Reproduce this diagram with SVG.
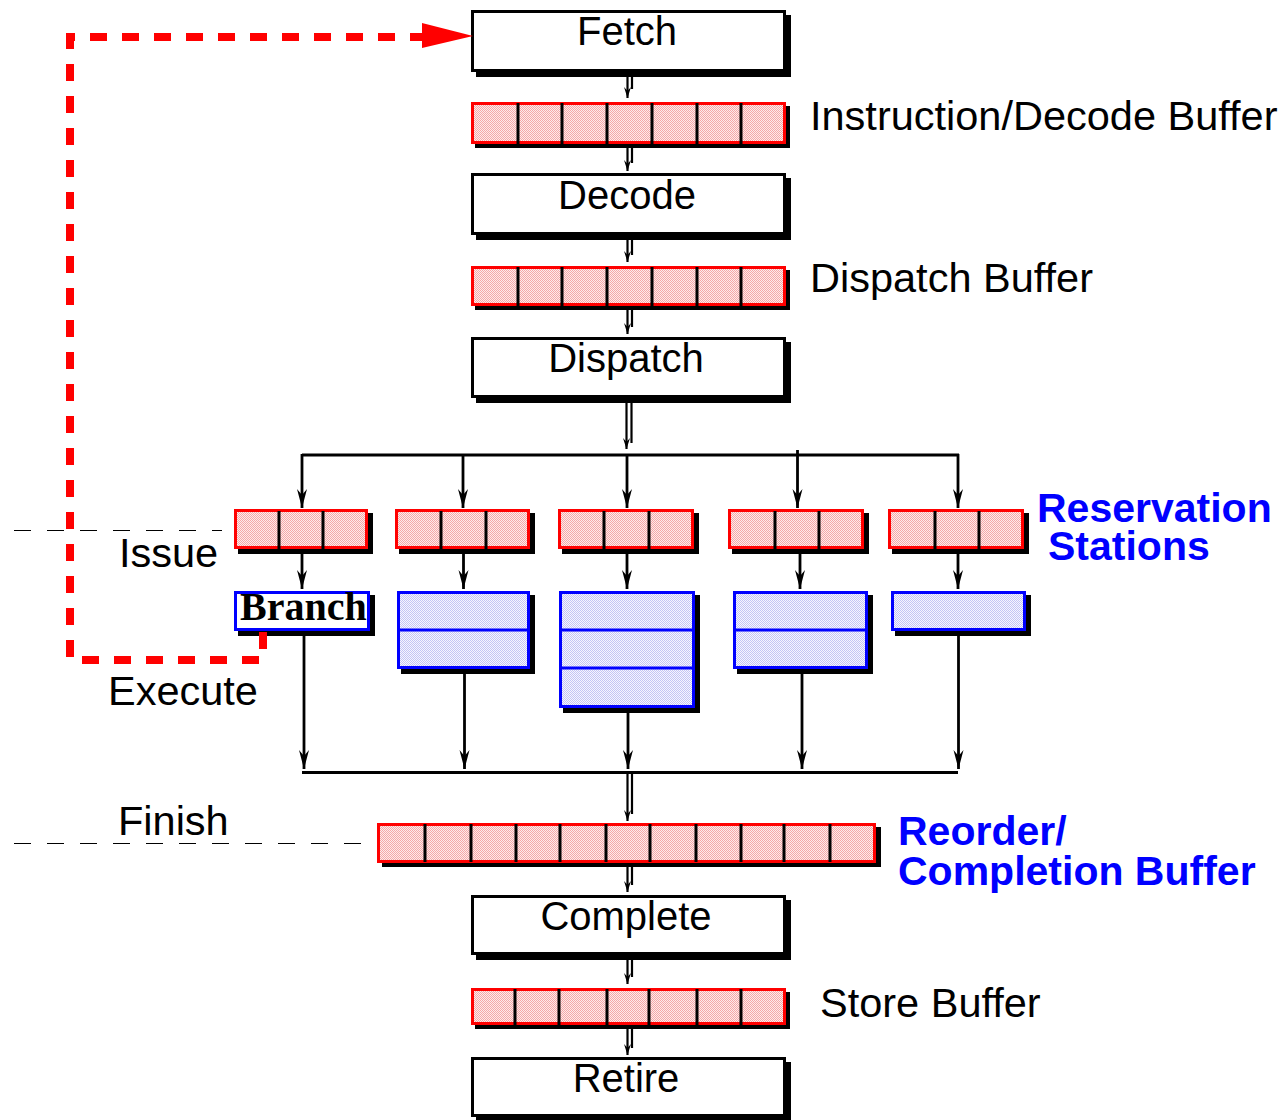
<svg xmlns="http://www.w3.org/2000/svg" width="1281" height="1120" viewBox="0 0 1281 1120">
  <defs>
    <!-- stippled fills for buffers and functional units -->
    <pattern id="pinkDots" width="2" height="2" patternUnits="userSpaceOnUse">
      <rect width="2" height="2" fill="#feeaea"/>
      <rect x="0" y="0" width="1" height="1" fill="#f4a8a8"/>
      <rect x="1" y="1" width="1" height="1" fill="#f4a8a8"/>
    </pattern>
    <pattern id="blueDots" width="2" height="2" patternUnits="userSpaceOnUse">
      <rect width="2" height="2" fill="#f6f6ff"/>
      <rect x="0" y="0" width="1" height="1" fill="#c4c4f4"/>
      <rect x="1" y="1" width="1" height="1" fill="#c4c4f4"/>
    </pattern>
    <marker id="arr" markerUnits="userSpaceOnUse" markerWidth="20" markerHeight="12" refX="0" refY="0" orient="auto" overflow="visible">
      <path d="M0,0 L-19,-5 L-13,0 L-19,5 Z" fill="#000"/>
    </marker>
    <marker id="arrSmall" markerUnits="userSpaceOnUse" markerWidth="12" markerHeight="8" refX="0" refY="0" orient="auto" overflow="visible">
      <path d="M0,0 L-11,-3.5 L-7,0 L-11,3.5 Z" fill="#000"/>
    </marker>
  </defs>
  <style>
    .shadow { fill: #000; }
    .stage { fill: #fff; stroke: #000; stroke-width: 3; }
    .buf { fill: url(#pinkDots); stroke: #f00; stroke-width: 3; }
    .unit { fill: url(#blueDots); stroke: #00f; stroke-width: 3; }
    .unitWhite { fill: #fff; stroke: #00f; stroke-width: 3; }
    .cell { stroke: #000; stroke-width: 3; }
    .ucell { stroke: #00f; stroke-width: 3; }
    .wire { fill: none; stroke: #000; stroke-width: 2.8; }
    .dwire { fill: none; stroke: #000; stroke-width: 2.2; }
    .guide { fill: none; stroke: #000; stroke-width: 1.2; stroke-dasharray: 17 16; }
    .feedback { fill: none; stroke: #f00; stroke-width: 8; stroke-dasharray: 17 15; }
    .lbl { font-family: "Liberation Sans", Arial, sans-serif; font-size: 40px; fill: #000; }
    .side { font-family: "Liberation Sans", Arial, sans-serif; font-size: 41.5px; fill: #000; }
    .blue { font-family: "Liberation Sans", Arial, sans-serif; font-size: 41px; font-weight: bold; fill: #00f; }
    .serifB { font-family: "Liberation Serif", "Times New Roman", serif; font-size: 40px; font-weight: bold; fill: #000; }
  </style>

  <!-- pipeline stages -->
  <g id="fetch">
    <rect class="shadow" x="476" y="15" width="315" height="62"/>
    <rect class="stage" x="472.5" y="11.5" width="312" height="59"/>
    <text class="lbl" x="627" y="45" text-anchor="middle">Fetch</text>
  </g>
  <g id="instr-decode-buffer">
    <rect class="shadow" x="475" y="106" width="315" height="42"/>
    <rect class="buf" x="472.5" y="103.5" width="312" height="39"/>
    <path class="cell" d="M518,103V144M562,103V144M607,103V144M652,103V144M697,103V144M741,103V144"/>
    <text class="side" x="810" y="130">Instruction/Decode Buffer</text>
  </g>
  <g id="decode">
    <rect class="shadow" x="476" y="178" width="315" height="62"/>
    <rect class="stage" x="472.5" y="174.5" width="312" height="59"/>
    <text class="lbl" x="627" y="209" text-anchor="middle">Decode</text>
  </g>
  <g id="dispatch-buffer">
    <rect class="shadow" x="475" y="270" width="315" height="40"/>
    <rect class="buf" x="472.5" y="267.5" width="312" height="37"/>
    <path class="cell" d="M518,267V306M562,267V306M607,267V306M652,267V306M697,267V306M741,267V306"/>
    <text class="side" x="810" y="292">Dispatch Buffer</text>
  </g>
  <g id="dispatch">
    <rect class="shadow" x="476" y="342" width="315" height="61"/>
    <rect class="stage" x="472.5" y="338.5" width="312" height="58"/>
    <text class="lbl" x="626" y="372" text-anchor="middle">Dispatch</text>
  </g>

  <!-- reservation stations -->
  <g id="rs1">
    <rect class="shadow" x="238" y="513" width="135" height="41"/>
    <rect class="buf" x="235.5" y="510.5" width="131" height="37"/>
    <path class="cell" d="M279,511V549M323,511V549"/>
  </g>
  <g id="rs2">
    <rect class="shadow" x="399" y="513" width="136" height="41"/>
    <rect class="buf" x="396.5" y="510.5" width="132" height="37"/>
    <path class="cell" d="M441,511V549M486,511V549"/>
  </g>
  <g id="rs3">
    <rect class="shadow" x="562" y="513" width="137" height="41"/>
    <rect class="buf" x="559.5" y="510.5" width="133" height="37"/>
    <path class="cell" d="M604,511V549M649,511V549"/>
  </g>
  <g id="rs4">
    <rect class="shadow" x="732" y="513" width="137" height="41"/>
    <rect class="buf" x="729.5" y="510.5" width="133" height="37"/>
    <path class="cell" d="M775,511V549M819,511V549"/>
  </g>
  <g id="rs5">
    <rect class="shadow" x="892" y="513" width="137" height="41"/>
    <rect class="buf" x="889.5" y="510.5" width="133" height="37"/>
    <path class="cell" d="M935,511V549M979,511V549"/>
  </g>
  <g id="rs-label">
    <text class="blue" x="1037" y="522">Reservation</text>
    <text class="blue" x="1048" y="560">Stations</text>
  </g>

  <!-- functional units -->
  <g id="branch-unit">
    <rect class="shadow" x="238" y="595" width="137" height="41"/>
    <rect class="unitWhite" x="235.5" y="592.5" width="133" height="37"/>
    <text class="serifB" x="240" y="620">Branch</text>
  </g>
  <g id="fu2">
    <rect class="shadow" x="401" y="595" width="134" height="79"/>
    <rect class="unit" x="398.5" y="592.5" width="130" height="75"/>
    <path class="ucell" d="M398,630H530"/>
  </g>
  <g id="fu3">
    <rect class="shadow" x="563" y="595" width="137" height="118"/>
    <rect class="unit" x="560.5" y="592.5" width="133" height="114"/>
    <path class="ucell" d="M560,630H695M560,668H695"/>
  </g>
  <g id="fu4">
    <rect class="shadow" x="737" y="595" width="136" height="79"/>
    <rect class="unit" x="734.5" y="592.5" width="132" height="75"/>
    <path class="ucell" d="M734,630H868"/>
  </g>
  <g id="fu5">
    <rect class="shadow" x="895" y="595" width="136" height="41"/>
    <rect class="unit" x="892.5" y="592.5" width="132" height="37"/>
  </g>

  <!-- reorder / completion buffer -->
  <g id="reorder-buffer">
    <rect class="shadow" x="382" y="827" width="499" height="40"/>
    <rect class="buf" x="378.5" y="824.5" width="496" height="37"/>
    <path class="cell" d="M425,824V862M471,824V862M516,824V862M560,824V862M606,824V862M650,824V862M696,824V862M741,824V862M784,824V862M830,824V862"/>
    <text class="blue" x="898" y="845">Reorder/</text>
    <text class="blue" x="898" y="885">Completion Buffer</text>
  </g>
  <g id="complete">
    <rect class="shadow" x="476" y="900" width="315" height="60"/>
    <rect class="stage" x="472.5" y="896.5" width="312" height="57"/>
    <text class="lbl" x="626" y="930" text-anchor="middle">Complete</text>
  </g>
  <g id="store-buffer">
    <rect class="shadow" x="475" y="992" width="315" height="37"/>
    <rect class="buf" x="472.5" y="989.5" width="312" height="34"/>
    <path class="cell" d="M515,989V1025M559,989V1025M607,989V1025M649,989V1025M697,989V1025M741,989V1025"/>
    <text class="side" x="820" y="1017">Store Buffer</text>
  </g>
  <g id="retire">
    <rect class="shadow" x="476" y="1062" width="315" height="60"/>
    <rect class="stage" x="472.5" y="1058.5" width="312" height="57"/>
    <text class="lbl" x="626" y="1092" text-anchor="middle">Retire</text>
  </g>

  <!-- stage boundary labels -->
  <g id="boundaries">
    <path class="guide" d="M14,530.5H222"/>
    <path class="guide" d="M14,843.5H372"/>
    <text class="side" x="119" y="567">Issue</text>
    <text class="side" x="108" y="705">Execute</text>
    <text class="side" x="118" y="835">Finish</text>
  </g>

  <!-- connectors -->
  <g id="connectors">
    <!-- double-line links along the main pipeline -->
    <path class="dwire" d="M627.5,73V98" marker-end="url(#arrSmall)"/>
    <path class="dwire" d="M632,73V89"/>
    <path class="dwire" d="M627.5,145V171" marker-end="url(#arrSmall)"/>
    <path class="dwire" d="M632,145V163"/>
    <path class="dwire" d="M627.5,237V262" marker-end="url(#arrSmall)"/>
    <path class="dwire" d="M632,237V255"/>
    <path class="dwire" d="M627.5,308V334" marker-end="url(#arrSmall)"/>
    <path class="dwire" d="M632,308V327"/>
    <path class="dwire" d="M626.5,400V449" marker-end="url(#arrSmall)"/>
    <path class="dwire" d="M631.5,400V443"/>
    <path class="dwire" d="M627.5,773V821" marker-end="url(#arrSmall)"/>
    <path class="dwire" d="M632,773V814"/>
    <path class="dwire" d="M627.5,864V892" marker-end="url(#arrSmall)"/>
    <path class="dwire" d="M632,864V885"/>
    <path class="dwire" d="M627.5,957V984" marker-end="url(#arrSmall)"/>
    <path class="dwire" d="M632,957V977"/>
    <path class="dwire" d="M627.5,1027V1055" marker-end="url(#arrSmall)"/>
    <path class="dwire" d="M632,1027V1048"/>

    <!-- dispatch fan-out to reservation stations -->
    <path class="wire" d="M302,455H959"/>
    <path class="wire" d="M302,454V508" marker-end="url(#arr)"/>
    <path class="wire" d="M463,455V508" marker-end="url(#arr)"/>
    <path class="wire" d="M627,455V508" marker-end="url(#arr)"/>
    <path class="wire" d="M797.5,450V508" marker-end="url(#arr)"/>
    <path class="wire" d="M958,454V508" marker-end="url(#arr)"/>

    <!-- reservation stations to functional units -->
    <path class="wire" d="M302,551V589" marker-end="url(#arr)"/>
    <path class="wire" d="M463.5,551V589" marker-end="url(#arr)"/>
    <path class="wire" d="M627,551V589" marker-end="url(#arr)"/>
    <path class="wire" d="M800,551V589" marker-end="url(#arr)"/>
    <path class="wire" d="M958,551V589" marker-end="url(#arr)"/>

    <!-- functional units to the result bus -->
    <path class="wire" d="M304,632V769" marker-end="url(#arr)"/>
    <path class="wire" d="M464.5,670V769" marker-end="url(#arr)"/>
    <path class="wire" d="M628,709V769" marker-end="url(#arr)"/>
    <path class="wire" d="M802,670V769" marker-end="url(#arr)"/>
    <path class="wire" d="M958.5,632V769" marker-end="url(#arr)"/>
    <path class="wire" d="M302,772.5H958"/>

    <!-- branch redirect back to fetch -->
    <path class="feedback" d="M263,632V660H70V37H428"/>
    <polygon points="422,23 473,36 422,48" fill="#f00"/>
  </g>
</svg>
